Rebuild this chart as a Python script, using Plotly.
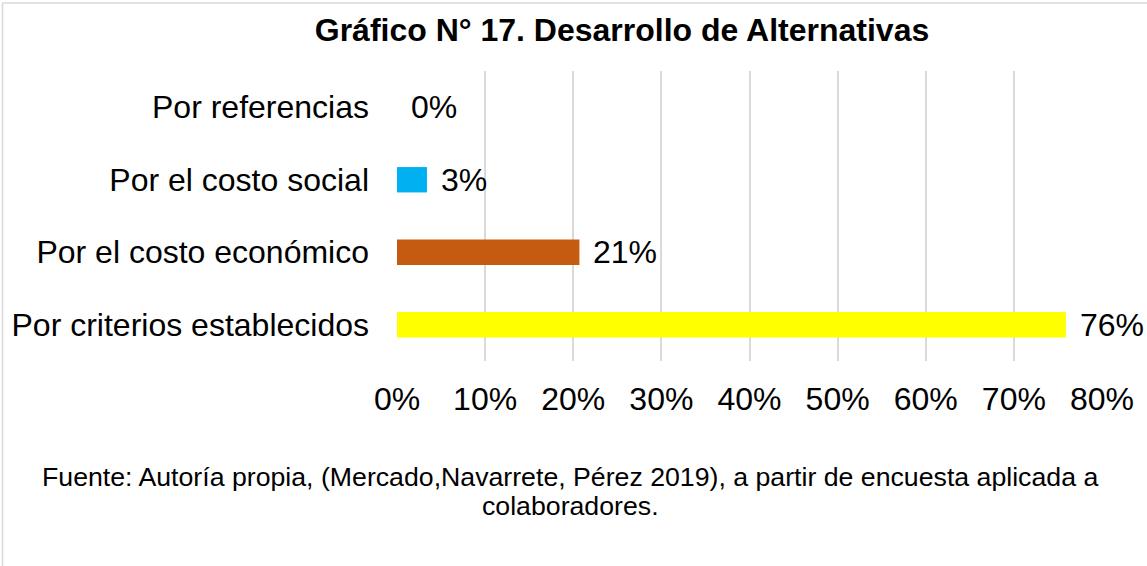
import plotly.graph_objects as go

categories = ["Por criterios establecidos", "Por el costo económico", "Por el costo social", "Por referencias"]
values = [75.9, 20.7, 3.4, 0.0]
labels = ["76%", "21%", "3%", "0%"]
colors = ["#FFFF00", "#C55A11", "#00B0F0", "#A5A5A5"]
tick_vals = [0, 10, 20, 30, 40, 50, 60, 70, 80]
tick_text = ["0%", "10%", "20%", "30%", "40%", "50%", "60%", "70%", "80%"]
title_text = "Gráfico N° 17. Desarrollo de Alternativas"
source_lines = ["Fuente: Autoría propia, (Mercado,Navarrete, Pérez 2019), a partir de encuesta aplicada a",
                "colaboradores."]

FONT = "Liberation Sans, Arial, sans-serif"
W, H = 1147, 566
L, R, T, B = 397, 45, 71, 205
pw = W - L - R
ph = H - T - B

fig = go.Figure(go.Bar(
    y=categories, x=values, orientation="h",
    marker=dict(color=colors, line=dict(width=0)),
    width=0.35, hoverinfo="skip",
))

for c, v, lab in zip(categories, values, labels):
    fig.add_annotation(x=v, y=c, xref="x", yref="y", text=lab, showarrow=False,
                       xanchor="left", yanchor="middle", xshift=12,
                       font=dict(family=FONT, size=32, color="#000000"))

def px_x(p):
    return (p - L) / pw

def px_y(p):
    return (H - B - p) / ph

fig.add_annotation(x=px_x(570), y=px_y(477), xref="paper", yref="paper", text=source_lines[0],
                   showarrow=False, xanchor="center", yanchor="middle",
                   font=dict(family=FONT, size=26.7, color="#000000"))
fig.add_annotation(x=px_x(570), y=px_y(506), xref="paper", yref="paper", text=source_lines[1],
                   showarrow=False, xanchor="center", yanchor="middle",
                   font=dict(family=FONT, size=26.7, color="#000000"))

# outer chart border (top and left visible)
fig.add_shape(type="line", xref="paper", yref="paper", x0=px_x(2.5), x1=px_x(1200),
              y0=px_y(3), y1=px_y(3), line=dict(color="#D9D9D9", width=1.5))
fig.add_shape(type="line", xref="paper", yref="paper", x0=px_x(2.5), x1=px_x(2.5),
              y0=px_y(3), y1=px_y(600), line=dict(color="#D9D9D9", width=1.5))

fig.update_layout(
    width=W, height=H,
    margin=dict(l=L, r=R, t=T, b=B, autoexpand=False),
    paper_bgcolor="white", plot_bgcolor="white",
    showlegend=False,
    title=dict(text="<b>" + title_text + "</b>", x=622 / W, xref="container", xanchor="center",
               y=1 - 30 / H, yref="container", yanchor="middle",
               font=dict(family=FONT, size=32, color="#000000")),
    xaxis=dict(range=[0, 80], tickvals=tick_vals, ticktext=tick_text,
               showgrid=True, gridcolor="#D9D9D9", gridwidth=2,
               zeroline=False, showline=False, ticks="",
               ticklabelstandoff=16,
               tickfont=dict(family=FONT, size=32, color="#000000")),
    yaxis=dict(categoryorder="array", categoryarray=categories,
               showgrid=False, zeroline=False, showline=False, ticks="",
               ticklabelstandoff=27,
               tickfont=dict(family=FONT, size=32, color="#000000")),
)

fig.write_html("out.html", config={"displayModeBar": False},
               post_script="document.body.style.margin='0';document.body.style.overflow='hidden';")
